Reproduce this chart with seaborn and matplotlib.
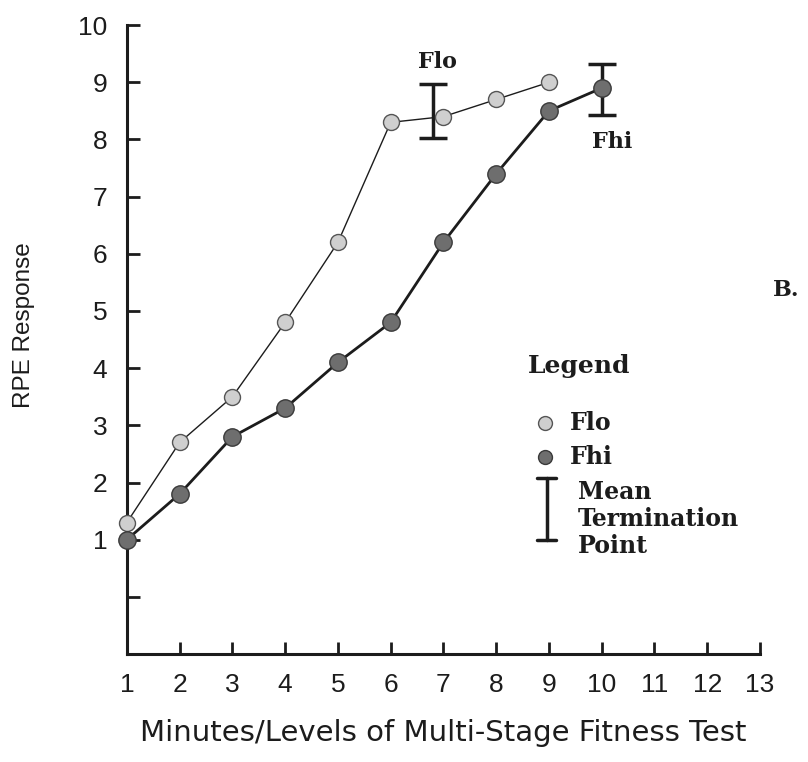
import matplotlib
matplotlib.use("Agg")
import matplotlib.pyplot as plt
import seaborn as sns
import pandas as pd

# RPE responses per minute/level of the multi-stage fitness test
levels_flo = [1, 2, 3, 4, 5, 6, 7, 8, 9]
rpe_flo = [1.3, 2.7, 3.5, 4.8, 6.2, 8.3, 8.4, 8.7, 9.0]
levels_fhi = [1, 2, 3, 4, 5, 6, 7, 8, 9, 10]
rpe_fhi = [1.0, 1.8, 2.8, 3.3, 4.1, 4.8, 6.2, 7.4, 8.5, 8.9]

# Mean termination points (level, RPE, half-range)
term_levels = [6.8, 10.0]
term_rpe = [8.5, 8.87]
term_err = [0.47, 0.45]

x_ticks = list(range(1, 14))
y_ticks = list(range(0, 11))
y_ticklabels = [""] + [str(v) for v in range(1, 11)]

sns.set_theme(style="white")
plt.rcParams["font.family"] = ["Liberation Sans", "DejaVu Sans"]

df_flo = pd.DataFrame({"level": levels_flo, "rpe": rpe_flo})
df_fhi = pd.DataFrame({"level": levels_fhi, "rpe": rpe_fhi})

fig = plt.figure(figsize=(8.08, 7.62), dpi=100)
ax = fig.add_axes([0.157, 0.1417, 0.7836, 0.8253])

ink = "#1c1c1c"
sns.lineplot(data=df_flo, x="level", y="rpe", ax=ax, color=ink, lw=1.0,
             marker="o", markersize=11.5, markerfacecolor="#cfcfcf",
             markeredgecolor="#555555", markeredgewidth=1.0, clip_on=False, zorder=3)
sns.lineplot(data=df_fhi, x="level", y="rpe", ax=ax, color=ink, lw=2.0,
             marker="o", markersize=12.5, markerfacecolor="#6e6e6e",
             markeredgecolor="#3a3a3a", markeredgewidth=1.0, clip_on=False, zorder=3)

ax.errorbar(term_levels, term_rpe, yerr=term_err, fmt="none", ecolor=ink,
            elinewidth=2.5, capsize=10, capthick=2.5, zorder=2)

ax.set_xlim(1, 13)
ax.set_ylim(-1, 10)
ax.set_xticks(x_ticks)
ax.set_xticklabels([str(v) for v in x_ticks])
ax.set_yticks(y_ticks)
ax.set_yticklabels(y_ticklabels)
ax.tick_params(axis="both", direction="in", length=9, width=2, color=ink,
               labelsize=19, labelcolor=ink, left=True, bottom=True)
ax.tick_params(axis="x", pad=14)
ax.tick_params(axis="y", pad=14)

for side in ["top", "right"]:
    ax.spines[side].set_visible(False)
for side in ["left", "bottom"]:
    ax.spines[side].set_color(ink)
    ax.spines[side].set_linewidth(2.2)

ax.set_xlabel("Minutes/Levels of Multi-Stage Fitness Test", fontsize=21,
              color=ink, family=["DejaVu Sans"])
ax.set_ylabel("RPE Response", fontsize=17.5, color=ink)
ax.xaxis.label.set_va("center")
ax.yaxis.label.set_va("center")
ax.xaxis.set_label_coords(0.5, -0.126)
ax.yaxis.set_label_coords(-0.163, 0.523)

serif = dict(family=["DejaVu Serif"], fontweight="bold", color=ink)
ax.text(6.88, 9.36, "Flo", ha="center", va="center", fontsize=16, **serif)
ax.text(10.19, 7.96, "Fhi", ha="center", va="center", fontsize=16, **serif)

# Legend block
tr = ax.transAxes
ax.text(0.633, 0.458, "Legend", transform=tr, ha="left", va="center", fontsize=18, **serif)
ax.plot([0.660], [0.367], "o", transform=tr, markersize=10, markerfacecolor="#cfcfcf",
        markeredgecolor="#555555", clip_on=False)
ax.text(0.700, 0.367, "Flo", transform=tr, ha="left", va="center", fontsize=17, **serif)
ax.plot([0.660], [0.313], "o", transform=tr, markersize=10, markerfacecolor="#6e6e6e",
        markeredgecolor="#3a3a3a", clip_on=False)
ax.text(0.700, 0.313, "Fhi", transform=tr, ha="left", va="center", fontsize=17, **serif)
ax.plot([0.663, 0.663], [0.181, 0.280], transform=tr, color=ink, lw=2.5, clip_on=False)
ax.plot([0.648, 0.678], [0.280, 0.280], transform=tr, color=ink, lw=2.5, clip_on=False)
ax.plot([0.648, 0.678], [0.181, 0.181], transform=tr, color=ink, lw=2.5, clip_on=False)
ax.text(0.712, 0.215, "Mean\nTermination\nPoint", transform=tr, ha="left", va="center",
        fontsize=17, linespacing=1.15, **serif)

fig.text(0.99, 0.62, "B.", ha="right", va="center", fontsize=16, **serif)

fig.savefig("out.png", dpi=100, facecolor="white")
